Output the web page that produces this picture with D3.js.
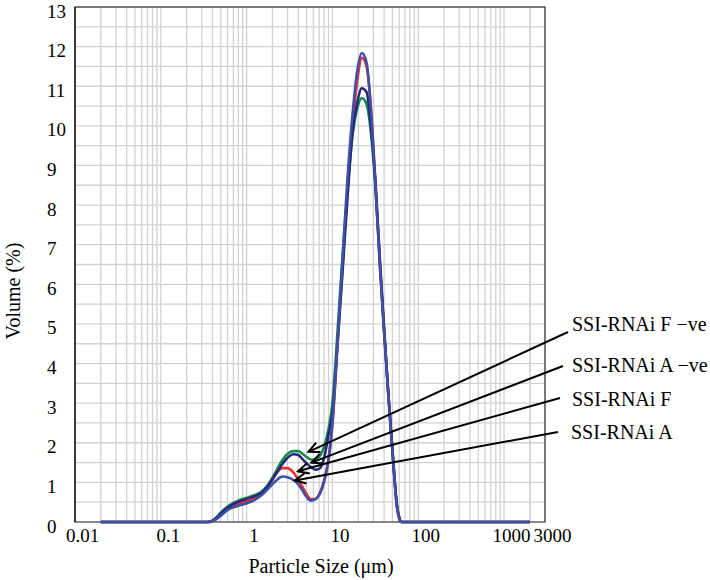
<!DOCTYPE html>
<html>
<head>
<meta charset="utf-8">
<script src="https://cdn.jsdelivr.net/npm/d3@7"></script>
</head>
<body style="margin:0;background:#fff">
<script>
// ---- Data ----
const sizes = [0.02, 0.35, 0.40, 0.45, 0.5, 0.6, 0.7, 0.8, 1.0, 1.2, 1.5, 1.8, 2.2, 2.6, 3.0, 3.5, 4.0, 4.5, 5.0, 5.6, 6.3, 7.0, 8.0, 9.0, 10, 11.5, 13, 15, 17, 19.5, 22, 25, 28, 32, 36, 40, 45, 50, 53, 56, 60, 64, 2000];

const seriesNames = ["SSI-RNAi F \u2212ve", "SSI-RNAi A \u2212ve", "SSI-RNAi F", "SSI-RNAi A"];

const valuesFneg = [0,0,0.04,0.13,0.24,0.39,0.48,0.54,0.61,0.67,0.77,0.96,1.28,1.56,1.72,1.79,1.79,1.72,1.64,1.58,1.57,1.64,1.9,2.35,3.0,4.85,6.6,8.4,9.7,10.45,10.7,10.55,9.85,8.3,6.4,4.85,3.15,1.8,1.05,0.45,0.1,0,0];
const valuesAneg = [0,0,0.03,0.11,0.21,0.36,0.45,0.51,0.58,0.64,0.74,0.93,1.22,1.46,1.62,1.71,1.69,1.58,1.48,1.39,1.32,1.34,1.62,2.2,2.75,4.55,6.2,8.2,9.75,10.6,10.95,10.85,10.0,8.45,6.5,4.9,3.2,1.85,1.1,0.5,0.12,0,0];
const valuesF    = [0,0,0.02,0.09,0.18,0.32,0.40,0.45,0.52,0.58,0.72,0.90,1.22,1.36,1.36,1.25,1.07,0.88,0.70,0.58,0.58,0.70,1.05,1.6,2.45,4.5,6.3,8.4,9.95,11.15,11.72,11.5,10.5,8.4,6.4,4.8,3.15,1.8,1.05,0.45,0.1,0,0];
const valuesA    = [0,0,0.02,0.08,0.16,0.30,0.37,0.41,0.47,0.54,0.68,0.85,1.04,1.15,1.13,1.06,0.95,0.79,0.63,0.54,0.57,0.68,1.02,1.55,2.5,4.6,6.5,8.7,10.2,11.4,11.84,11.6,10.45,8.35,6.35,4.8,3.15,1.8,1.05,0.45,0.1,0,0];

// arrow targets (size in µm, volume %), same order as seriesNames
const arrowSizes  = [5.26, 5.7, 3.97, 3.66];
const arrowValues = [1.77, 1.50, 1.28, 1.05];

const xTickValues = [0.01, 0.1, 1, 10, 100, 1000, 3000];
const xTickLabels = ["0.01", "0.1", "1", "10", "100", "1000", "3000"];
const yTickValues = [0,1,2,3,4,5,6,7,8,9,10,11,12,13];

// ---- Layout ----
const W = 710, H = 580;
const L = 75, R = 545, T = 7, B = 522;
const FONT = '"Liberation Serif"';

const svg = d3.select("body").append("svg").attr("width", W).attr("height", H);

const x = d3.scaleLog().domain([0.01, 3000]).range([L, R]);
const y = d3.scaleLinear().domain([0, 13]).range([B, T]);

// grid
const grid = svg.append("g");
const minor = [];
for (let d = 0.01; d <= 1000; d *= 10) {
  for (let k = 1; k <= 9; k++) {
    const v = +(d * k).toPrecision(3);
    if (v > 0.01 && v <= 3000) minor.push(v);
  }
}
minor.push(2000, 3000);
grid.selectAll("line.v").data(minor).enter().append("line")
  .attr("x1", d => x(d)).attr("x2", d => x(d))
  .attr("y1", T).attr("y2", B)
  .attr("stroke", "#d2d2d2").attr("stroke-width", 1.3);
grid.selectAll("line.h").data(d3.range(0.5, 13.01, 0.5)).enter().append("line")
  .attr("x1", L).attr("x2", R)
  .attr("y1", d => y(d)).attr("y2", d => y(d))
  .attr("stroke", "#d2d2d2").attr("stroke-width", 1.3);

// box
svg.append("rect").attr("x", L).attr("y", T).attr("width", R - L).attr("height", B - T)
  .attr("fill", "none").attr("stroke", "#3a3a3a").attr("stroke-width", 1.2);
svg.append("line").attr("x1", L).attr("x2", L).attr("y1", T).attr("y2", B)
  .attr("stroke", "#111").attr("stroke-width", 1.3);

// axes
const xAxis = d3.axisBottom(x).tickValues(xTickValues)
  .tickFormat((d, i) => xTickLabels[i]).tickSize(0).tickPadding(0);
const gx = svg.append("g").attr("transform", `translate(0,${B})`).call(xAxis);
gx.select(".domain").remove();
gx.selectAll("text").attr("font-size", 19).attr("dy", null).attr("y", 20)
  .attr("dx", 7).attr("fill", "#000").style("font-family", FONT);

const yAxis = d3.axisLeft(y).tickValues(yTickValues).tickSize(0).tickPadding(0);
const gy = svg.append("g").attr("transform", `translate(${L},0)`).call(yAxis);
gy.select(".domain").remove();
gy.selectAll("text").attr("font-size", 19).attr("text-anchor", "start")
  .attr("x", -28).attr("dy", null).attr("y", 10).attr("fill", "#000")
  .style("font-family", FONT);

// axis titles
svg.append("text").attr("x", 321).attr("y", 573).attr("text-anchor", "middle")
  .attr("font-size", 20).style("font-family", FONT).text("Particle Size (\u03bcm)");
svg.append("text").attr("transform", "translate(20,291) rotate(-90)")
  .attr("text-anchor", "middle").attr("font-size", 20).style("font-family", FONT)
  .text("Volume (%)");

// curves
const line = d3.line().x(d => x(d[0])).y(d => y(d[1])).curve(d3.curveMonotoneX);
const drawOrder = [
  { vals: valuesFneg, color: "#168a48" },
  { vals: valuesF,    color: "#ee2f2f" },
  { vals: valuesAneg, color: "#222a7c" },
  { vals: valuesA,    color: "#3d4fa6" }
];
drawOrder.forEach(s => {
  svg.append("path").datum(sizes.map((sz, i) => [sz, s.vals[i]]))
    .attr("d", line).attr("fill", "none")
    .attr("stroke", s.color).attr("stroke-width", 2.6)
    .attr("stroke-linejoin", "round");
});

// labels + arrows
const labelX = [572, 572, 572, 571];
const labelY = [331, 372, 406, 439];
const startX = [568, 563, 560, 558];
const startY = [332, 366, 398, 432];
seriesNames.forEach((name, i) => {
  svg.append("text").attr("x", labelX[i]).attr("y", labelY[i])
    .attr("font-size", 20).style("font-family", FONT).text(name);
  const tx = x(arrowSizes[i]), ty = y(arrowValues[i]);
  svg.append("line").attr("x1", startX[i]).attr("y1", startY[i])
    .attr("x2", tx).attr("y2", ty).attr("stroke", "#000").attr("stroke-width", 2);
  const ang = Math.atan2(startY[i] - ty, startX[i] - tx);
  const len = 12, spread = 0.45;
  const p1 = [tx + len * Math.cos(ang + spread), ty + len * Math.sin(ang + spread)];
  const p2 = [tx + len * Math.cos(ang - spread), ty + len * Math.sin(ang - spread)];
  svg.append("path").attr("d", `M${p1[0]},${p1[1]}L${tx},${ty}L${p2[0]},${p2[1]}`)
    .attr("fill", "none").attr("stroke", "#000").attr("stroke-width", 2);
});
</script>
</body>
</html>
